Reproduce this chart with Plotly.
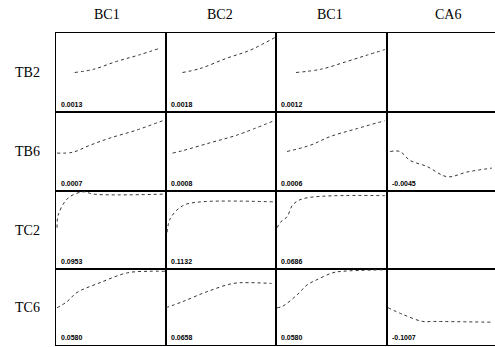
import plotly.graph_objects as go

W, H = 495, 347

col_labels = ["BC1", "BC2", "BC1", "CA6"]
row_labels = ["TB2", "TB6", "TC2", "TC6"]

# panel values (x: position 0-100 across panel, y: response 0-100)
tb2_bc1_x = [17, 34, 55, 75, 95]
tb2_bc1_y = [50, 54, 64, 72, 81]
tb2_bc2_x = [15, 31, 55, 76, 100]
tb2_bc2_y = [50, 55, 68, 78, 95]
tb2_bc1b_x = [18, 40, 64, 82, 98]
tb2_bc1b_y = [50, 54, 64, 72, 79]

tb6_bc1_x = [1, 15, 31, 49, 73, 99]
tb6_bc1_y = [48, 49, 58, 67, 77, 90]
tb6_bc2_x = [6, 15, 40, 65, 100]
tb6_bc2_y = [48, 51, 61, 71, 90]
tb6_bc1b_x = [10, 31, 49, 73, 98]
tb6_bc1b_y = [50, 58, 69, 79, 89]
tb6_ca6_x = [3, 12, 21, 37, 56, 74, 97]
tb6_ca6_y = [50, 50, 39, 31, 18, 24, 29]

tc2_bc1_x = [1, 2, 11, 25, 34, 99]
tc2_bc1_y = [53, 69, 91, 99, 96, 96]
tc2_bc2_x = [1, 4, 15, 31, 100]
tc2_bc2_y = [47, 65, 81, 86, 86]
tc2_bc1b_x = [1, 4, 10, 15, 24, 98]
tc2_bc1b_y = [53, 60, 67, 82, 90, 94]

tc6_bc1_x = [1, 10, 19, 40, 65, 85, 99]
tc6_bc1_y = [49, 57, 69, 82, 95, 97, 97]
tc6_bc2_x = [0, 15, 37, 61, 76, 96]
tc6_bc2_y = [49, 57, 70, 81, 82, 81]
tc6_bc1b_x = [1, 6, 19, 28, 37, 51, 60, 98]
tc6_bc1b_y = [49, 51, 66, 79, 86, 95, 97, 99]
tc6_ca6_x = [1, 15, 33, 43, 98]
tc6_ca6_y = [49, 40, 31, 31, 30]

series = [
    [(tb2_bc1_x, tb2_bc1_y), (tb2_bc2_x, tb2_bc2_y), (tb2_bc1b_x, tb2_bc1b_y), None],
    [(tb6_bc1_x, tb6_bc1_y), (tb6_bc2_x, tb6_bc2_y), (tb6_bc1b_x, tb6_bc1b_y), (tb6_ca6_x, tb6_ca6_y)],
    [(tc2_bc1_x, tc2_bc1_y), (tc2_bc2_x, tc2_bc2_y), (tc2_bc1b_x, tc2_bc1b_y), None],
    [(tc6_bc1_x, tc6_bc1_y), (tc6_bc2_x, tc6_bc2_y), (tc6_bc1b_x, tc6_bc1b_y), (tc6_ca6_x, tc6_ca6_y)],
]

panel_values = [
    ["0.0013", "0.0018", "0.0012", ""],
    ["0.0007", "0.0008", "0.0006", "-0.0045"],
    ["0.0953", "0.1132", "0.0686", ""],
    ["0.0580", "0.0658", "0.0580", "-0.1007"],
]

col_edges = [56, 166, 276, 387, 495]
row_edges = [33, 112, 191, 269, 345]
header_x = [107, 220, 330, 448]

fig = go.Figure()
layout = {}
annotations = []
for r in range(4):
    for c in range(4):
        idx = r * 4 + c + 1
        xa = "xaxis" if idx == 1 else f"xaxis{idx}"
        ya = "yaxis" if idx == 1 else f"yaxis{idx}"
        xr = "x" if idx == 1 else f"x{idx}"
        yr = "y" if idx == 1 else f"y{idx}"
        layout[xa] = dict(
            domain=[col_edges[c] / W, col_edges[c + 1] / W],
            range=[0, 100], anchor=yr, showgrid=False, zeroline=False,
            showticklabels=False, ticks="", showline=True, mirror=True,
            linecolor="black", linewidth=1, fixedrange=True,
        )
        layout[ya] = dict(
            domain=[1 - row_edges[r + 1] / H, 1 - row_edges[r] / H],
            range=[0, 100], anchor=xr, showgrid=False, zeroline=False,
            showticklabels=False, ticks="", showline=True,
            mirror=(c < 3), linecolor="black", linewidth=1, fixedrange=True,
        )
        s = series[r][c]
        if s is not None:
            fig.add_trace(go.Scatter(
                x=s[0], y=s[1], xaxis=xr, yaxis=yr, mode="lines",
                line=dict(color="#333333", width=1, dash="dot", shape="spline"),
                showlegend=False, hoverinfo="skip",
            ))
        else:
            fig.add_trace(go.Scatter(
                x=[None], y=[None], xaxis=xr, yaxis=yr, mode="lines",
                showlegend=False, hoverinfo="skip",
            ))
        if panel_values[r][c]:
            annotations.append(dict(
                text="<b>" + panel_values[r][c] + "</b>", xref=f"{xr} domain", yref=f"{yr} domain",
                x=0.03, y=0.1, xanchor="left", yanchor="middle", showarrow=False,
                font=dict(family="Liberation Sans", size=7, color="black"),
            ))

for c, lab in enumerate(col_labels):
    annotations.append(dict(
        text=lab, xref="paper", yref="paper",
        x=header_x[c] / W, y=1 - 15 / H,
        xanchor="center", yanchor="middle", showarrow=False,
        font=dict(family="Liberation Serif", size=14, color="black"),
    ))
for r, lab in enumerate(row_labels):
    annotations.append(dict(
        text=lab, xref="paper", yref="paper",
        x=27 / W, y=1 - (row_edges[r] + row_edges[r + 1]) / 2 / H,
        xanchor="center", yanchor="middle", showarrow=False,
        font=dict(family="Liberation Serif", size=14, color="black"),
    ))

fig.update_layout(
    width=W, height=H, margin=dict(l=0, r=0, t=0, b=0),
    paper_bgcolor="white", plot_bgcolor="white",
    annotations=annotations, **layout,
)
fig.write_html("out.html", config={"displayModeBar": False},
               post_script="document.body.style.margin='0px';")
